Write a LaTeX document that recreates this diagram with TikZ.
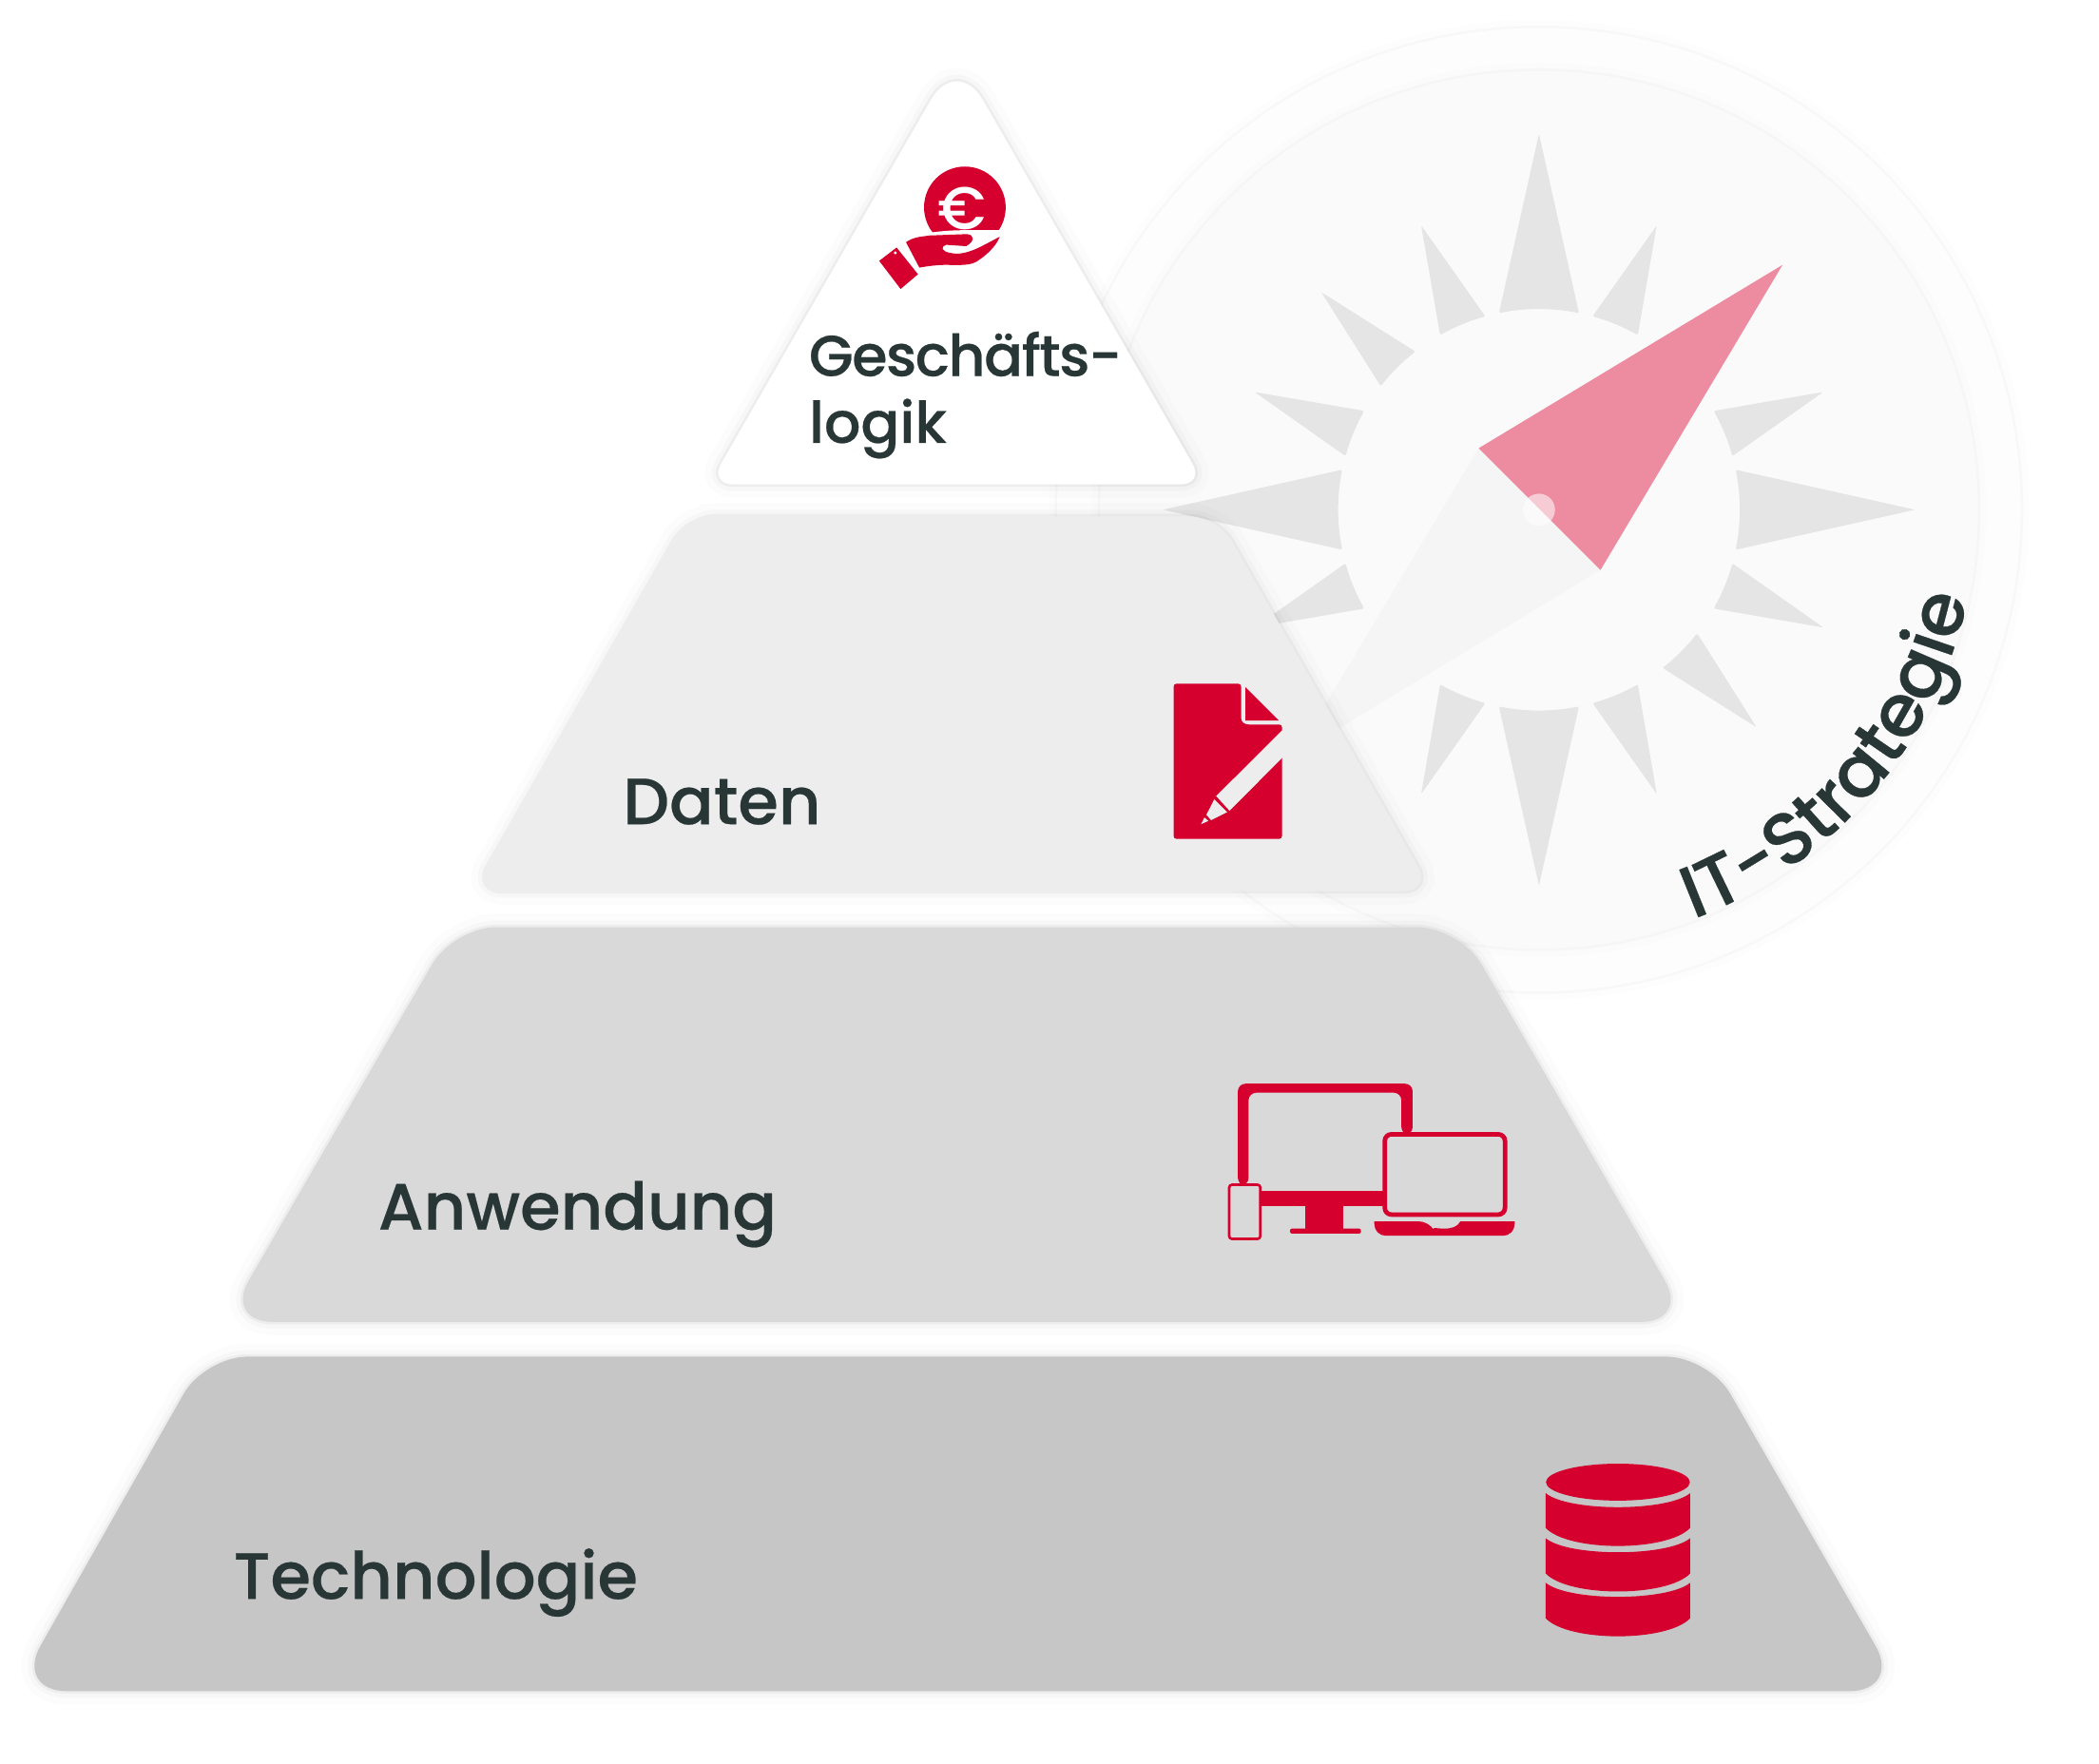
\documentclass[tikz,border=0pt]{standalone}
\usepackage{fontspec}
\setmainfont{Poppins}[UprightFont=* Medium]
\newfontfamily\titlefont{Poppins}[UprightFont=* Medium,UprightFeatures={FakeBold=0.35}]
\usetikzlibrary{positioning,decorations.text}
\definecolor{ired}{HTML}{D6002F}
\definecolor{ink}{HTML}{283636}
\tikzstyle{softedge} = [preaction={draw=black,opacity=.012,line width=8pt},preaction={draw=black,opacity=.02,line width=4pt},preaction={draw=black,opacity=.04,line width=1.5pt}]
\tikzstyle{faintedge} = [preaction={draw=black,opacity=.006,line width=5pt},preaction={draw=black,opacity=.018,line width=1.5pt}]
\tikzstyle{level} = [softedge,line join=round]
\tikzstyle{ray} = [fill=black!10,rounded corners=.02cm]
\tikzstyle{icon} = [fill=ired]
\tikzstyle{title} = [text=ink,inner sep=0,anchor=base west,font=\titlefont\fontsize{19.6}{28}\selectfont]
\tikzstyle{smalltitle} = [title,font=\titlefont\fontsize{17.2}{24}\selectfont]
\def \hub {150}

\begin{document}
\begin{tikzpicture}[x=0.014077cm,y=-0.014077cm]
      \useasboundingbox (0,0) rectangle (1568.5,1318.4);
      \fill[white] (0,0) rectangle (1568.5,1318.4);
      % compass behind the pyramid
      \begin{scope}[shift={(1150,381)}]
        \fill[faintedge,fill=white!99.4!black] (0,0) circle (360);
        \fill[faintedge,fill=white!98!black] (0,0) circle (328);
        \foreach \a in {0,90,180,270}
          \fill[ray] (\a-11.5:\hub) arc[start angle=\a-11.5,end angle=\a+11.5,radius=\hub] -- (\a:281) -- cycle;
        \foreach \a in {22.5,45,67.5,112.5,157.5,202.5,225,247.5,292.5,337.5}
          \fill[ray] (\a-7:\hub) arc[start angle=\a-7,end angle=\a+7,radius=\hub] -- (\a:230) -- cycle;
        \fill[fill=black!4] (-45,-46) -- (46,45) -- (-182,183) -- cycle;
        \fill[fill=ired!45!white] (-45,-46) -- (182,-183) -- (46,45) -- cycle;
        \fill[white,opacity=.55] (0,0) circle (12);
        \path[decorate,decoration={text along path,text align=center,text={|\titlefont\fontsize{22}{24}\selectfont\color{ink}|IT-Strategie}}]
          (70:327) arc[start angle=70,end angle=11,radius=327];
      \end{scope}
      % pyramid
      \fill[level,fill=white] [rounded corners=.55cm] (715,41) [rounded corners=.25cm] -- (900,362) -- (530,362) [rounded corners=.55cm] -- cycle;
      \fill[level,fill=black!7] [rounded corners=.3cm] (514,386) -- (910,386) -- (1070,666) -- (354,666) -- cycle;
      \fill[level,fill=black!15] [rounded corners=.45cm] (339,693) -- (1091,693) [rounded corners=.5cm] -- (1262,988) -- (168,988) [rounded corners=.45cm] -- cycle;
      \fill[level,fill=black!22.5] [rounded corners=.45cm] (153,1014) -- (1277,1014) [rounded corners=.55cm] -- (1421,1264) -- (11,1264) [rounded corners=.45cm] -- cycle;
      % labels
      \node[smalltitle] (geschaeft) at (604,281) {\addfontfeature{LetterSpace=-2.5}Geschäfts-};
      \node[smalltitle] (logik) at (604,331) {logik};
      \node[title] (daten) at (465,616) {Daten};
      \node[title] (anwendung) at (282,919) {Anwendung};
      \node[title] (technologie) at (174,1195) {Technologie};
      % coin in hand
      \fill[icon] (721,155) circle (30.5);
      \node[inner sep=0,text=white,font=\fontsize{18}{20}\selectfont] (euro) at (719,156) {€};
      \fill[white] (680,178) .. controls (695,172) and (715,172) .. (729,172) -- (752,172) -- (735,198) -- (690,204) -- cycle;
      \fill[icon] (677,181) .. controls (683,177) and (688,177) .. (695,176) -- (722,175) .. controls (728,175) and (729,180) .. (722,184) -- (707,183) .. controls (703,184) and (703,188) .. (710,189) .. controls (722,192) and (735,183) .. (747,177) .. controls (745,183) and (738,190) .. (732,194) .. controls (726,199) and (718,198) .. (706,198) .. controls (700,198) and (693,199) .. (687,200) -- cycle;
      \fill[icon] (657,195) -- (670,185) -- (686,205) -- (673,216) -- cycle;
      \fill[white] (669,189) circle (1.2);
      % sheet with pen
      \fill[icon,rounded corners=.03cm] (877,511) -- (927.4,511) -- (927.4,539) -- (930.7,541.5) -- (958,541.5) -- (958,627) -- (877,627) -- cycle;
      \fill[icon] (930.7,513.6) -- (955.6,538.6) -- (930.7,538.6) -- cycle;
      \fill[black!7] (958,546) -- (908.8,595) -- (918.8,606) -- (958,566.5) -- (961,566.5) -- (961,546) -- cycle;
      \fill[black!7] (907.4,597.4) -- (917,607) -- (905,613) -- (901.5,609) -- cycle;
      \fill[black!7] (900,611) -- (903,613.6) -- (897.5,616) -- cycle;
      % screens
      \fill[icon,even odd rule,rounded corners=.08cm] (925,810) -- (1055.6,810) -- (1055.6,848) -- (1047.2,848) -- (1047.2,816.7) -- (933,816.7) -- (933,886) -- (925,886) -- cycle;
      \fill[icon] (941,889.8) rectangle (1036.5,901.7);
      \fill[icon] (975.3,901.7) rectangle (1004,918.3);
      \fill[icon,rounded corners=.02cm] (964,918.3) rectangle (1017,922);
      \draw[ired,line width=.75pt,rounded corners=.03cm] (918.5,885.5) rectangle (941.8,926);
      \draw[ired,line width=1.35pt,rounded corners=.07cm] (1034.8,847.8) rectangle (1124.6,907.8);
      \fill[icon,rounded corners=.1cm] (1027,912.9) -- (1067.5,912.9) [sharp corners] .. controls (1070,917) and (1074,918.3) .. (1079,918.3) .. controls (1085,918.3) and (1089,917) .. (1091.3,912.9) -- (1131.8,912.9) [rounded corners=.12cm] -- (1131.8,923.6) -- (1027,923.6) [sharp corners] -- cycle;
      % stacked disks
      \fill[icon] (1209,1107.8) ellipse (53.8 and 13.8);
      \foreach \t/\b in {1116/1142,1149.7/1176,1183/1209.5}
        \fill[icon] (1155,\t) .. controls (1172,\t+14) and (1246,\t+14) .. (1263,\t) -- (1263,\b) .. controls (1246,\b+18) and (1172,\b+18) .. (1155,\b) -- cycle;
\end{tikzpicture}
\end{document}
